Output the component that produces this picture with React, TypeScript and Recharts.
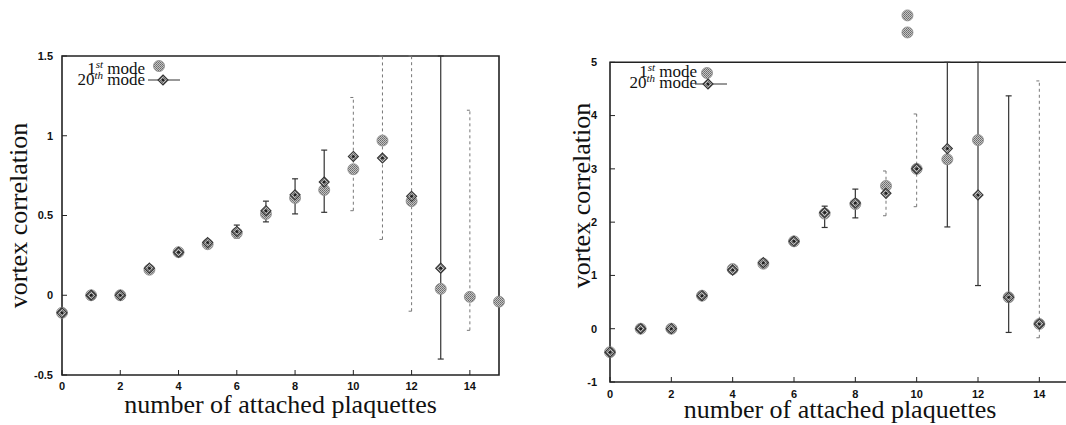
import React from "react";
import { ScatterChart, Scatter, XAxis, YAxis, ErrorBar, ReferenceArea, Legend } from "recharts";

// left panel
const leftPlaq = [0, 1, 2, 3, 4, 5, 6, 7, 8, 9, 10, 11, 12, 13, 14, 15];
const leftMode1 = [-0.11, 0, 0, 0.16, 0.27, 0.32, 0.39, 0.51, 0.61, 0.66, 0.79, 0.97, 0.59, 0.04, -0.01, -0.04];
const leftMode20 = [-0.11, 0, 0, 0.17, 0.27, 0.33, 0.4, 0.53, 0.63, 0.71, 0.87, 0.86, 0.62, 0.17, null, null];
const leftMode1Low = [null, null, null, null, null, null, null, null, null, null, 0.53, 0.35, -0.1, null, -0.22, null];
const leftMode1High = [null, null, null, null, null, null, null, null, null, null, 1.24, 1.5, 1.5, null, 1.16, null];
const leftMode20Low = [null, null, null, null, null, null, 0.36, 0.46, 0.51, 0.52, null, null, null, -0.4, null, null];
const leftMode20High = [null, null, null, null, null, null, 0.44, 0.59, 0.73, 0.91, null, null, null, 1.5, null, null];
const leftYTicks = [-0.5, 0, 0.5, 1, 1.5];

// right panel
const rightPlaq = [0, 1, 2, 3, 4, 5, 6, 7, 8, 9, 10, 11, 12, 13, 14];
const rightMode1 = [-0.44, 0, 0, 0.62, 1.12, 1.22, 1.64, 2.16, 2.34, 2.68, 3.0, 3.18, 3.54, 0.59, 0.09];
const rightMode20 = [-0.44, 0, 0, 0.62, 1.1, 1.24, 1.64, 2.18, 2.36, 2.54, 3.0, 3.38, 2.51, 0.59, 0.09];
const rightMode1Low = [null, null, null, null, null, null, null, null, null, 2.12, 2.29, null, null, null, -0.17];
const rightMode1High = [null, null, null, null, null, null, null, null, null, 2.96, 4.03, null, null, null, 4.65];
const rightMode20Low = [null, null, null, null, null, null, null, 1.9, 2.08, null, null, 1.91, 0.81, -0.07, null];
const rightMode20High = [null, null, null, null, null, null, null, 2.3, 2.62, null, null, 5, 5, 4.37, null];
const strayX = [9.7, 9.7];
const strayY = [5.88, 5.56];
const rightYTicks = [-1, 0, 1, 2, 3, 4, 5];

const xTicks = [0, 2, 4, 6, 8, 10, 12, 14];

type Pt = { x: number; y: number; err: [number, number] | null };

function points(xs: number[], ys: (number | null)[], lows?: (number | null)[], highs?: (number | null)[]): Pt[] {
  const out: Pt[] = [];
  xs.forEach((x, i) => {
    const y = ys[i];
    if (y == null) return;
    const lo = lows ? lows[i] : null;
    const hi = highs ? highs[i] : null;
    out.push({ x, y, err: lo != null && hi != null ? [y - lo, hi - y] : null });
  });
  return out;
}

const tickStyle = { fill: "#111", fontSize: 11, fontWeight: 700, fontFamily: "Liberation Sans" };
const titleStyle = { fill: "#111", fontSize: 26, fontFamily: "Liberation Serif" };

function Blob(props: any) {
  const { cx, cy } = props;
  if (cx == null || cy == null) return null;
  return <circle cx={cx} cy={cy} r={5.5} fill="url(#dither)" stroke="#8a8a8a" strokeWidth={0.8} />;
}

function Diamond(props: any) {
  const { cx, cy } = props;
  if (cx == null || cy == null) return null;
  const s = 5;
  return (
    <g>
      <polygon
        points={`${cx},${cy - s} ${cx + s},${cy} ${cx},${cy + s} ${cx - s},${cy}`}
        fill="url(#dither)"
        stroke="#333"
        strokeWidth={1.1}
      />
      <circle cx={cx} cy={cy} r={1.5} fill="#222" />
    </g>
  );
}

function ModeKey({ end, row1, row2, dotX, dotY, lineX1, lineX2, lineY, diaX }: any) {
  return (
    <svg width={140} height={36} style={{ overflow: "visible", display: "block" }}>
      <text x={end} y={row1} textAnchor="end" fontFamily="Liberation Serif" fontSize={17} fill="#111">
        1<tspan dy={-6} fontSize={11} fontStyle="italic">st</tspan>
        <tspan dy={6}>{" mode"}</tspan>
      </text>
      <text x={end} y={row2} textAnchor="end" fontFamily="Liberation Serif" fontSize={17} fill="#111">
        20<tspan dy={-6} fontSize={11} fontStyle="italic">th</tspan>
        <tspan dy={6}>{" mode"}</tspan>
      </text>
      <Blob cx={dotX} cy={dotY} />
      <line x1={lineX1} x2={lineX2} y1={lineY} y2={lineY} stroke="#333" strokeWidth={1} />
      <Diamond cx={diaX} cy={lineY} />
    </svg>
  );
}

function Panel({ width, yWidth, xHeight, margin, yDomain, yTicks, yTickMargin, xTickMargin, xLabelOffset, yLabelOffset, mode1, mode20, stray, keyProps }: any) {
  return (
    <ScatterChart width={width} height={425} margin={margin}>
      <XAxis
        type="number"
        dataKey="x"
        domain={[0, 15]}
        ticks={xTicks}
        interval={0}
        tick={tickStyle}
        tickSize={-5}
        tickMargin={xTickMargin}
        tickLine={{ stroke: "#222" }}
        axisLine={false}
        height={xHeight}
        label={{ value: "number of attached plaquettes", position: "insideBottom", offset: xLabelOffset, style: titleStyle }}
      />
      <XAxis
        xAxisId="mirror"
        orientation="top"
        type="number"
        domain={[0, 15]}
        ticks={xTicks}
        interval={0}
        tick={false}
        tickSize={-5}
        tickLine={{ stroke: "#222" }}
        axisLine={false}
        height={0}
      />
      <YAxis
        type="number"
        dataKey="y"
        domain={yDomain}
        ticks={yTicks}
        interval={0}
        width={yWidth}
        tick={tickStyle}
        tickSize={-5}
        tickMargin={yTickMargin}
        tickLine={{ stroke: "#222" }}
        axisLine={false}
        label={{ value: "vortex correlation", angle: -90, position: "insideLeft", offset: yLabelOffset, style: { ...titleStyle, textAnchor: "middle" } }}
      />
      <YAxis
        yAxisId="mirror"
        orientation="right"
        type="number"
        domain={yDomain}
        ticks={yTicks}
        interval={0}
        width={0}
        tick={false}
        tickSize={-5}
        tickLine={{ stroke: "#222" }}
        axisLine={false}
      />
      <ReferenceArea
        x1={0}
        x2={15}
        y1={yTicks[0]}
        y2={yTicks[yTicks.length - 1]}
        fill="none"
        stroke="#222"
        strokeWidth={1.6}
        ifOverflow="visible"
      />
      <Scatter data={mode1} shape={<Blob />} isAnimationActive={false}>
        <ErrorBar dataKey="err" direction="y" width={3} stroke="#777" strokeWidth={1} strokeDasharray="3 3" />
      </Scatter>
      <Scatter data={mode20} shape={<Diamond />} isAnimationActive={false}>
        <ErrorBar dataKey="err" direction="y" width={3} stroke="#333" strokeWidth={1.2} />
      </Scatter>
      {stray ? <Scatter data={stray} shape={<Blob />} isAnimationActive={false} /> : null}
      <Legend
        layout="horizontal"
        verticalAlign="middle"
        align="center"
        content={() => <ModeKey {...keyProps} />}
        wrapperStyle={{ position: "absolute", left: margin.left + yWidth, top: margin.top, width: 140, height: 36 }}
      />
    </ScatterChart>
  );
}

export default function App() {
  const leftM1 = points(leftPlaq, leftMode1, leftMode1Low, leftMode1High);
  const leftM20 = points(leftPlaq, leftMode20, leftMode20Low, leftMode20High);
  const rightM1 = points(rightPlaq, rightMode1, rightMode1Low, rightMode1High);
  const rightM20 = points(rightPlaq, rightMode20, rightMode20Low, rightMode20High);
  const strayPts = points(strayX, strayY);

  return (
    <div style={{ position: "absolute", left: 0, top: 0, width: 1066, height: 425, overflow: "hidden", background: "#fff" }}>
      <svg width={0} height={0} style={{ position: "absolute" }}>
        <defs>
          <pattern id="dither" width={2} height={2} patternUnits="userSpaceOnUse">
            <rect width={2} height={2} fill="#c4c4c4" />
            <rect width={1} height={1} fill="#6a6a6a" />
            <rect x={1} y={1} width={1} height={1} fill="#7a7a7a" />
          </pattern>
        </defs>
      </svg>
      <div style={{ position: "absolute", left: 0, top: 0 }}>
        <Panel
          width={540}
          yWidth={62}
          xHeight={50}
          margin={{ top: 56, right: 41, bottom: 0, left: 0 }}
          yDomain={[-0.5, 1.5]}
          yTicks={leftYTicks}
          yTickMargin={14}
          xTickMargin={12}
          xLabelOffset={12}
          yLabelOffset={18}
          mode1={leftM1}
          mode20={leftM20}
          keyProps={{ end: 83, row1: 18, row2: 29, dotX: 97, dotY: 10, lineX1: 86, lineX2: 118, lineY: 24, diaX: 101 }}
        />
      </div>
      <div style={{ position: "absolute", left: 540, top: 0 }}>
        <Panel
          width={540}
          yWidth={70}
          xHeight={43}
          margin={{ top: 9, right: 10, bottom: 0, left: 0 }}
          yDomain={[-1, 6]}
          yTicks={rightYTicks}
          yTickMargin={18}
          xTickMargin={13}
          xLabelOffset={7}
          yLabelOffset={41}
          mode1={rightM1}
          mode20={rightM20}
          stray={strayPts}
          keyProps={{ end: 87, row1: 68, row2: 79, dotX: 97, dotY: 64, lineX1: 85, lineX2: 117, lineY: 75, diaX: 98 }}
        />
      </div>
    </div>
  );
}
